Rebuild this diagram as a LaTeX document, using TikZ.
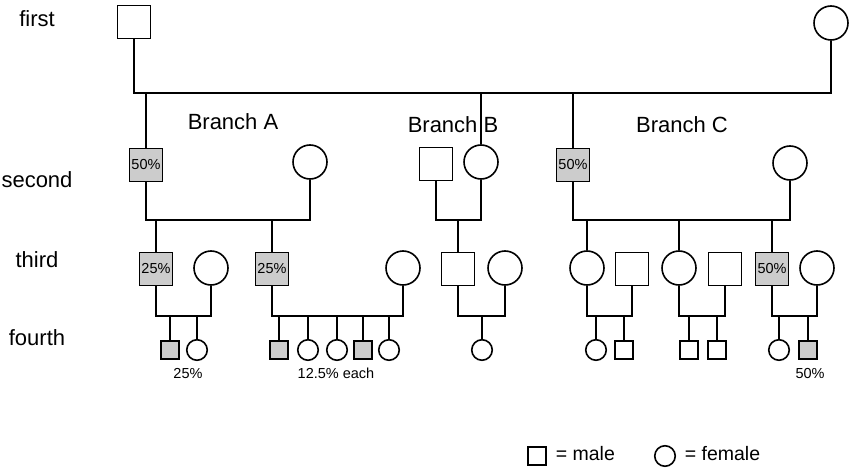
\documentclass[tikz,border=0pt]{standalone}
\usepackage{fontspec}
\setmainfont{Liberation Sans}
\begin{document}
\begin{tikzpicture}[x=1pt, y=-1pt, line width=1.6pt,
    male/.style={draw, rectangle, minimum size=33pt, inner sep=0pt},
    female/.style={draw, circle, minimum size=34pt, inner sep=0pt},
    kidm/.style={male, minimum size=18.5pt},
    kidf/.style={female, minimum size=20.5pt},
    shade/.style={fill=black!20},
    gen/.style={anchor=base, inner sep=0pt, font=\fontsize{22}{26}\selectfont},
    pct/.style={font=\fontsize{14.5}{17}\selectfont},
    note/.style={anchor=base, inner sep=0pt, font=\fontsize{14.5}{17}\selectfont},
    key/.style={anchor=base west, inner sep=0pt, font=\fontsize{19.5}{23}\selectfont}]
    \useasboundingbox (0,0) rectangle (856,468);

    % labels
    \node[gen] (first) at (37,27) {first};
    \node[gen] (second) at (37,187) {second};
    \node[gen] (third) at (37,267) {third};
    \node[gen] (fourth) at (37,345) {fourth};
    \node[gen] (branch A) at (233,130) {Branch A};
    \node[gen] (branch B) at (453,132) {Branch B};
    \node[gen] (branch C) at (682,132) {Branch C};

    \coordinate (bar1) at (0,93);
    \coordinate (bar2) at (0,220);
    \coordinate (bar3) at (0,316);

    % first generation
    \node[male] (g1m) at (134,22) {};
    \node[female] (g1f) at (831,23) {};
    \draw (g1m) |- (g1f |- bar1) -- (g1f);

    % second generation
    \node[male, shade, pct] (A2m) at (146,165) {50\%};
    \node[female] (A2f) at (310,162) {};
    \node[male] (B2m) at (436,164) {};
    \node[female] (B2f) at (481,162) {};
    \node[male, shade, pct] (C2m) at (573,165) {50\%};
    \node[female] (C2f) at (790,163) {};
    \foreach \p in {A2m,B2f,C2m}
        \draw (\p) -- (\p |- bar1);
    \draw (A2m) |- (A2f |- bar2) -- (A2f);
    \draw (B2m) |- (B2f |- bar2) -- (B2f);
    \draw (C2m) |- (C2f |- bar2) -- (C2f);

    % third generation
    \node[male, shade, pct] (A3m1) at (156,269) {25\%};
    \node[female] (A3f1) at (211,268) {};
    \node[male, shade, pct] (A3m2) at (272,269) {25\%};
    \node[female] (A3f2) at (403,268) {};
    \node[male] (B3m) at (458,269) {};
    \node[female] (B3f) at (505,268) {};
    \node[female] (C3f1) at (587,268) {};
    \node[male] (C3m1) at (632,269) {};
    \node[female] (C3f2) at (679,268) {};
    \node[male] (C3m2) at (725,269) {};
    \node[male, shade, pct] (C3m3) at (772,269) {50\%};
    \node[female] (C3f3) at (817,268) {};
    \foreach \p in {A3m1,A3m2,B3m,C3f1,C3f2,C3m3}
        \draw (\p) -- (\p |- bar2);
    \draw (A3m1) |- (A3f1 |- bar3) -- (A3f1);
    \draw (A3m2) |- (A3f2 |- bar3) -- (A3f2);
    \draw (B3m) |- (B3f |- bar3) -- (B3f);
    \draw (C3f1) |- (C3m1 |- bar3) -- (C3m1);
    \draw (C3f2) |- (C3m2 |- bar3) -- (C3m2);
    \draw (C3m3) |- (C3f3 |- bar3) -- (C3f3);

    % fourth generation
    \node[kidm, shade] (A4a) at (170,350) {};
    \node[kidf] (A4b) at (197,350) {};
    \node[kidm, shade] (A4c) at (279,350) {};
    \node[kidf] (A4d) at (308,350) {};
    \node[kidf] (A4e) at (337,350) {};
    \node[kidm, shade] (A4f) at (363,350) {};
    \node[kidf] (A4g) at (389,350) {};
    \node[kidf] (B4a) at (482,350) {};
    \node[kidf] (C4a) at (596,350) {};
    \node[kidm] (C4b) at (624,350) {};
    \node[kidm] (C4c) at (689,350) {};
    \node[kidm] (C4d) at (717,350) {};
    \node[kidf] (C4e) at (779,350) {};
    \node[kidm, shade] (C4f) at (808,350) {};
    \foreach \p in {A4a,A4b,A4c,A4d,A4e,A4f,A4g,B4a,C4a,C4b,C4c,C4d,C4e,C4f}
        \draw (\p) -- (\p |- bar3);

    \node[note] (share A1) at (188,378) {25\%};
    \node[note] (share A2) at (336,378) {12.5\% each};
    \node[note] (share C) at (810,378) {50\%};

    % legend
    \node[kidm] (key male) at (537,456) {};
    \node[key] (key male text) at (555,460) {= male};
    \node[kidf] (key female) at (665,456) {};
    \node[key] (key female text) at (684,460) {= female};
\end{tikzpicture}
\end{document}
